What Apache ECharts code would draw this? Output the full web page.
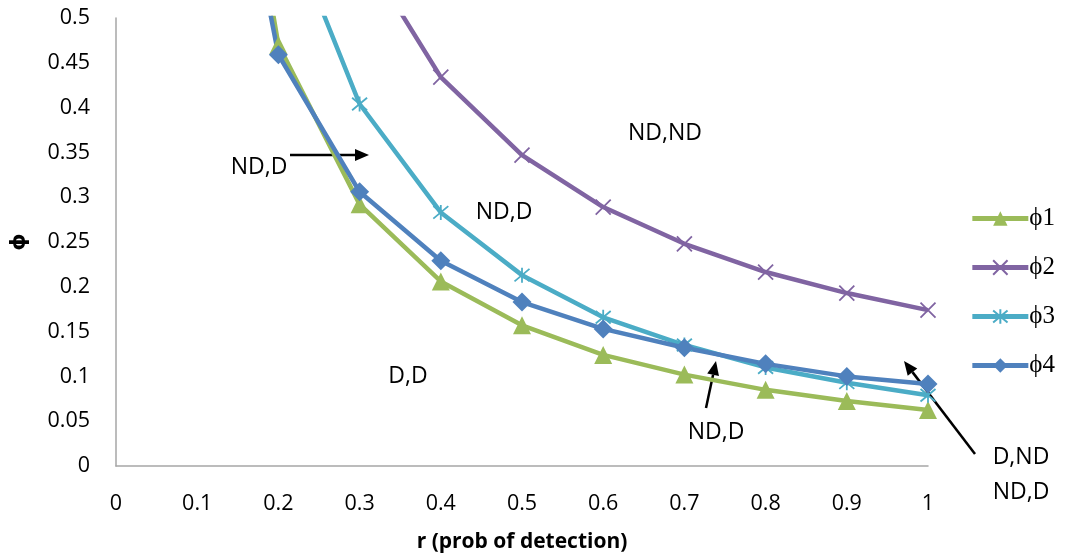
<!DOCTYPE html>
<html><head><meta charset="utf-8">
<script src="https://cdn.jsdelivr.net/npm/echarts@6/dist/echarts.min.js"></script>
<style>html,body{margin:0;padding:0;background:#fff}#c{width:1066px;height:560px}</style>
</head><body><div id="c"></div>
<script>
var rValues = [0.1, 0.2, 0.3, 0.4, 0.5, 0.6, 0.7, 0.8, 0.9, 1.0];
var phi1 = [1.0, 0.47, 0.292, 0.206, 0.157, 0.124, 0.102, 0.085, 0.0725, 0.0625];
var phi2 = [1.74, 0.87, 0.58, 0.434, 0.347, 0.289, 0.248, 0.2165, 0.193, 0.174];
var phi3 = [1.26, 0.63, 0.404, 0.283, 0.213, 0.166, 0.135, 0.110, 0.093, 0.079];
var phi4 = [0.92, 0.459, 0.306, 0.229, 0.183, 0.153, 0.132, 0.114, 0.100, 0.0915];
var seriesNames = ['\u03d51', '\u03d52', '\u03d53', '\u03d54'];
var xAxisName = 'r (prob of detection)';
var yAxisName = '\u03d5';

function pairs(ys){ return rValues.map(function(x,i){ return [x, ys[i]]; }); }

var colors = ['#9BBB59', '#8064A2', '#4BACC6', '#4F81BD'];
var symX = 'path://M0,0L10,10M10,0L0,10';
var symStar = 'path://M0,0L10,10M10,0L0,10M5,-1L5,11';

function mkSeries(name, data, color, symbol, size, stroke) {
  return {
    name: name, type: 'line', data: pairs(data), clip: true,
    symbol: symbol, symbolSize: size, showSymbol: true,
    lineStyle: { color: color, width: 4.5 },
    itemStyle: { color: stroke ? 'rgba(0,0,0,0)' : color, borderColor: color, borderWidth: stroke ? 1.8 : 0 },
    emphasis: { disabled: true },
    animation: false
  };
}

var chart = echarts.init(document.getElementById('c'), null, { renderer: 'canvas' });
var font = '"Open Sans", sans-serif';

function arrow(x1, y1, x2, y2) {
  var dx = x2 - x1, dy = y2 - y1, L = Math.sqrt(dx*dx + dy*dy);
  var ux = dx / L, uy = dy / L, hl = 14, hw = 6;
  var bx = x2 - ux * hl, by = y2 - uy * hl;
  return [
    { type: 'line', shape: { x1: x1, y1: y1, x2: bx, y2: by }, style: { stroke: '#000', lineWidth: 2.5 } },
    { type: 'polygon', shape: { points: [[x2, y2], [bx - uy*hw, by + ux*hw], [bx + uy*hw, by - ux*hw]] }, style: { fill: '#000' } }
  ];
}
function label(text, x, y) {
  return { type: 'text', x: x, y: y, style: { text: text, font: '23px ' + font, fill: '#000', align: 'center', verticalAlign: 'middle' } };
}

var graphics = [
  label('ND,ND', 665, 133),
  label('ND,D', 259, 167),
  label('ND,D', 504, 212),
  label('D,D', 408, 376),
  label('ND,D', 716, 432),
  label('D,ND', 1021, 457),
  label('ND,D', 1021, 492)
].concat(arrow(290, 155, 369, 155)).concat(arrow(706, 408, 716, 361)).concat(arrow(975, 454, 904, 361));

chart.setOption({
  animation: false,
  grid: { left: 116, right: 138, top: 18, bottom: 94, containLabel: false, outerBoundsMode: 'none' },
  legend: {
    orient: 'vertical', right: 6, top: 201, itemGap: 24, itemWidth: 56, itemHeight: 18,
    lineStyle: { width: 5 },
    textStyle: { fontFamily: '"Liberation Serif", "DejaVu Serif", serif', fontSize: 25, color: '#000', padding: [0, 0, 0, -4] },
    data: seriesNames
  },
  xAxis: {
    type: 'value', min: 0, max: 1, interval: 0.1,
    name: xAxisName, nameLocation: 'middle', nameGap: 66,
    nameTextStyle: { fontFamily: font, fontWeight: 'bold', fontSize: 21, color: '#000' },
    axisLine: { lineStyle: { color: '#a6a6a6', width: 1.5 } },
    axisTick: { show: false }, splitLine: { show: false },
    axisLabel: { margin: 27, fontFamily: font, fontSize: 21.5, color: '#000' }
  },
  yAxis: {
    type: 'value', min: 0, max: 0.5, interval: 0.05,
    name: yAxisName, nameLocation: 'middle', nameGap: 86, nameRotate: 90,
    nameTextStyle: { fontFamily: '"DejaVu Sans", sans-serif', fontWeight: 'bold', fontSize: 22, color: '#000' },
    axisLine: { show: true, lineStyle: { color: '#a6a6a6', width: 1.5 } },
    axisTick: { show: false }, splitLine: { show: false },
    axisLabel: { margin: 26, fontFamily: font, fontSize: 21.5, color: '#000' }
  },
  series: [
    mkSeries(seriesNames[0], phi1, colors[0], 'triangle', 18, false),
    mkSeries(seriesNames[1], phi2, colors[1], symX, 15, true),
    mkSeries(seriesNames[2], phi3, colors[2], symStar, 15, true),
    mkSeries(seriesNames[3], phi4, colors[3], 'diamond', 19, false)
  ],
  graphic: graphics
});
</script></body></html>
